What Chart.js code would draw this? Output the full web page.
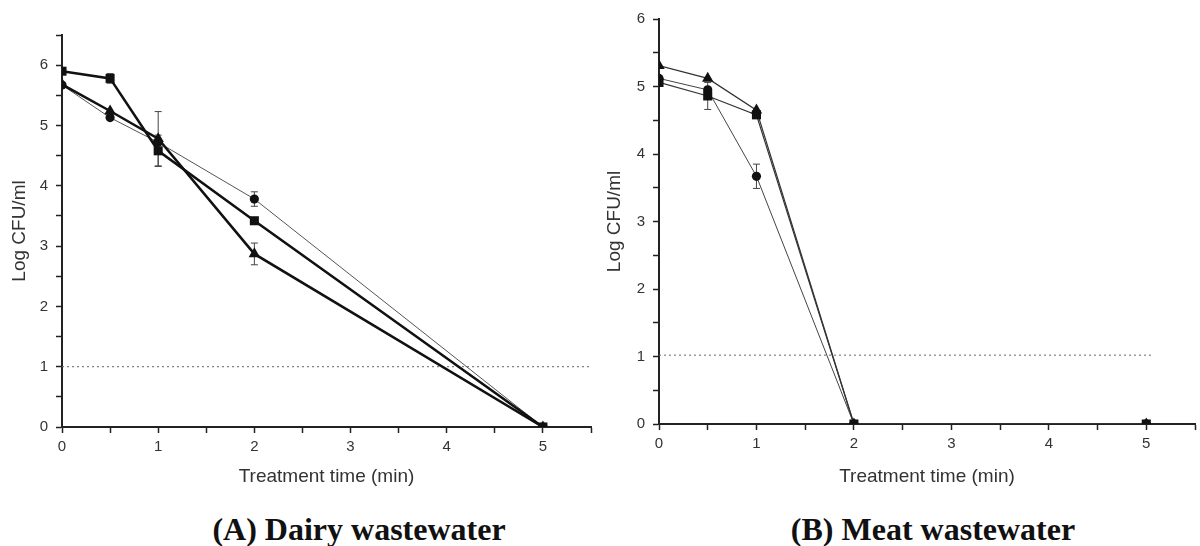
<!DOCTYPE html>
<html>
<head>
<meta charset="utf-8">
<script src="https://cdn.jsdelivr.net/npm/chart.js@4.4.1/dist/chart.umd.min.js"></script>
<style>
    body { margin: 0; background: #fff; width: 1200px; height: 546px; position: relative; overflow: hidden; }
    .panel { position: absolute; top: 0; width: 600px; height: 500px; }
    .caption {
        position: absolute; top: 513px; line-height: 32px;
        font-family: 'Liberation Serif', 'Times New Roman', serif; font-weight: bold; font-size: 32px;
        color: #111; white-space: nowrap; transform: translateX(-50%);
    }
</style>
</head>
<body>
<div class="panel" style="left:0"><canvas id="chartDairy" width="600" height="500"></canvas></div>
<div class="panel" style="left:600px"><canvas id="chartMeat" width="600" height="500"></canvas></div>
<div class="caption" style="left:359px">(A) Dairy wastewater</div>
<div class="caption" style="left:933px">(B) Meat wastewater</div>

<script>
// --- data (A) dairy ---
const dairyTime = [0, 0.5, 1, 2, 5];
const dairySquare = [5.9, 5.78, 4.58, 3.42, 0];
const dairySquareErr = [0, 0.08, 0.26, 0, 0];
const dairyCircle = [5.67, 5.13, 4.72, 3.78, 0];
const dairyCircleErr = [0, 0, 0, 0.12, 0];
const dairyTriangle = [5.68, 5.24, 4.78, 2.87, 0];
const dairyTriangleErr = [0, 0, 0.45, 0.18, 0];
const dairyLimitX = [0, 5.5];
const dairyLimitY = [1, 1];

// --- data (B) meat ---
const meatTime = [0, 0.5, 1, 2, 5];
const meatSquare = [5.06, 4.86, 4.58, 0, 0];
const meatSquareErr = [0, 0.2, 0, 0, 0];
const meatCircle = [5.12, 4.95, 3.67, 0, 0];
const meatCircleErr = [0, 0, 0.18, 0, 0];
const meatTriangle = [5.31, 5.12, 4.65, 0, 0];
const meatTriangleErr = [0, 0, 0, 0, 0];
const meatLimitX = [0, 5.05];
const meatLimitY = [1.02, 1.02];

// tick labels
const xTickLabels = [0, 1, 2, 3, 4, 5];
const dairyYTickLabels = [0, 1, 2, 3, 4, 5, 6];
const meatYTickLabels = [0, 1, 2, 3, 4, 5, 6];

const AXIS_FONT = "'Liberation Sans', Arial, sans-serif";
const INK = '#222';

function pts(xs, ys) {
    return xs.map((x, i) => ({ x: x, y: ys[i] }));
}

// error bars drawn under the markers
const errorBars = {
    id: 'errorBars',
    beforeDatasetsDraw(chart) {
        const ctx = chart.ctx;
        const ys = chart.scales.y;
        chart.data.datasets.forEach((ds, i) => {
            if (!ds.errors) return;
            const meta = chart.getDatasetMeta(i);
            ctx.save();
            ctx.strokeStyle = '#444';
            ctx.lineWidth = 1;
            meta.data.forEach((p, j) => {
                const e = ds.errors[j];
                if (!e) return;
                const v = ds.data[j].y;
                const top = ys.getPixelForValue(v + e);
                const bot = ys.getPixelForValue(v - e);
                ctx.beginPath();
                ctx.moveTo(p.x, top); ctx.lineTo(p.x, bot);
                ctx.moveTo(p.x - 3.5, top); ctx.lineTo(p.x + 3.5, top);
                ctx.moveTo(p.x - 3.5, bot); ctx.lineTo(p.x + 3.5, bot);
                ctx.stroke();
            });
            ctx.restore();
        });
    }
};

function series(label, xs, ys, errs, shape, width, color) {
    const radius = shape === 'circle' ? 4.6 : (shape === 'triangle' ? 6.6 : 6.4);
    return {
        label: label,
        data: pts(xs, ys),
        errors: errs,
        borderColor: color,
        borderWidth: width,
        pointStyle: shape,
        pointRadius: radius,
        pointBackgroundColor: '#111',
        pointBorderColor: '#111',
        pointBorderWidth: 0,
        fill: false,
        tension: 0
    };
}

function limitLine(xs, ys) {
    return {
        label: 'Detection limit',
        data: pts(xs, ys),
        borderColor: '#666',
        borderWidth: 1,
        borderDash: [2, 3],
        pointRadius: 0,
        fill: false
    };
}

function buildOptions(cfg) {
    const grid = { drawOnChartArea: false, drawTicks: true, tickLength: 6, tickColor: INK, tickWidth: 1.5 };
    const border = { display: true, color: INK, width: 2 };
    return {
        responsive: false,
        animation: false,
        layout: { autoPadding: false, padding: { left: 0, top: cfg.top, right: cfg.right, bottom: 0 } },
        plugins: { legend: { display: false }, tooltip: { enabled: false } },
        scales: {
            x: {
                type: 'linear', min: 0, max: 5.5,
                grid: grid, border: border,
                afterFit: function(scale) { scale.height = cfg.xHeight; },
                ticks: {
                    stepSize: 0.5, autoSkip: false, maxRotation: 0, padding: 5, color: '#333',
                    font: { family: AXIS_FONT, size: 15 },
                    callback: function(v) { return xTickLabels.includes(v) ? String(v) : ''; }
                },
                title: {
                    display: true, text: 'Treatment time (min)', color: '#333',
                    font: { family: AXIS_FONT, size: 19 }, padding: { top: 0, bottom: 12 }
                }
            },
            y: {
                type: 'linear', min: 0, max: cfg.yMax,
                grid: grid, border: border,
                afterFit: function(scale) { scale.width = cfg.yWidth; },
                ticks: {
                    stepSize: 0.5, autoSkip: false, padding: 8, color: '#333',
                    font: { family: AXIS_FONT, size: 15 },
                    callback: function(v) { return cfg.yLabels.includes(v) ? String(v) : ''; }
                },
                title: {
                    display: true, text: 'Log CFU/ml', color: '#333',
                    font: { family: AXIS_FONT, size: 19 }, padding: { top: cfg.yTitlePad, bottom: 0 }
                }
            }
        }
    };
}

new Chart(document.getElementById('chartDairy'), {
    type: 'line',
    data: {
        datasets: [
            series('Square', dairyTime, dairySquare, dairySquareErr, 'rect', 2.5, '#111'),
            series('Triangle', dairyTime, dairyTriangle, dairyTriangleErr, 'triangle', 2.5, '#111'),
            series('Circle', dairyTime, dairyCircle, dairyCircleErr, 'circle', 1, '#555'),
            limitLine(dairyLimitX, dairyLimitY)
        ]
    },
    options: buildOptions({ top: 35, right: 9, xHeight: 73, yWidth: 62, yMax: 6.5, yLabels: dairyYTickLabels, yTitlePad: 8 }),
    plugins: [errorBars]
});

new Chart(document.getElementById('chartMeat'), {
    type: 'line',
    data: {
        datasets: [
            series('Square', meatTime, meatSquare, meatSquareErr, 'rect', 1.2, '#333'),
            series('Triangle', meatTime, meatTriangle, meatTriangleErr, 'triangle', 1.2, '#333'),
            series('Circle', meatTime, meatCircle, meatCircleErr, 'circle', 1, '#444'),
            limitLine(meatLimitX, meatLimitY)
        ]
    },
    options: buildOptions({ top: 19, right: 0, xHeight: 76, yWidth: 59, yMax: 6, yLabels: meatYTickLabels, yTitlePad: 3 }),
    plugins: [errorBars]
});
</script>
</body>
</html>
